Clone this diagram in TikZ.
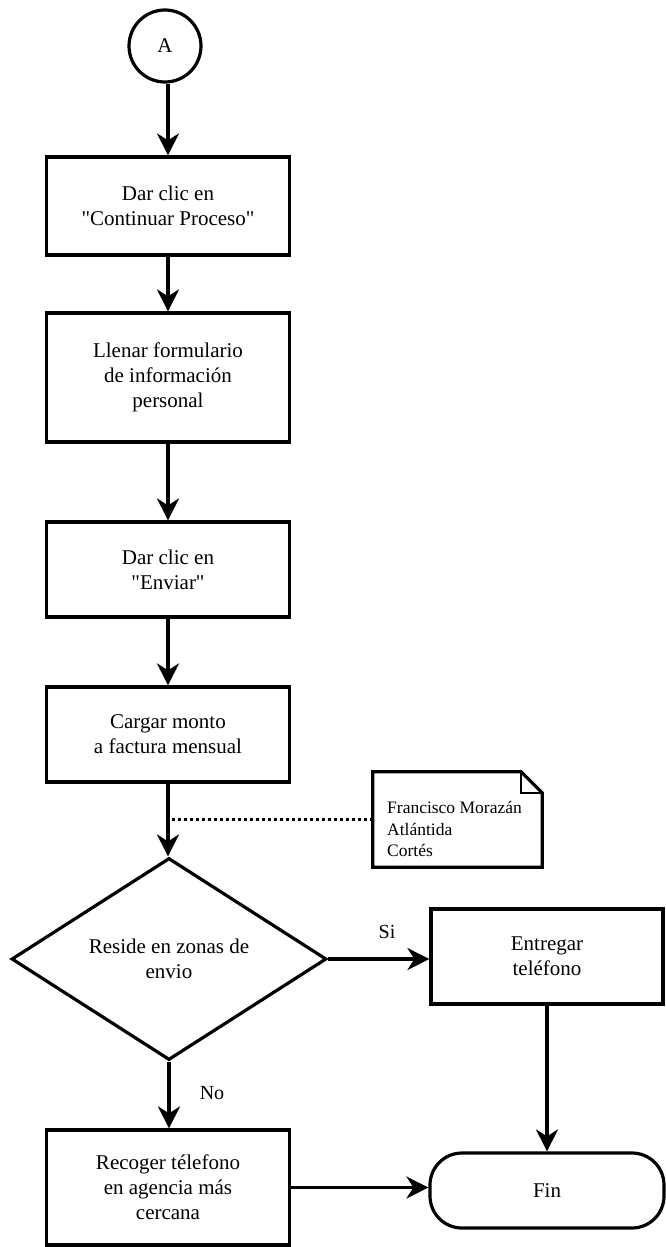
\documentclass[tikz,border=0pt]{standalone}
\usepackage{fontspec}
\setmainfont{Liberation Serif}[Ligatures=TeXOff]
\usetikzlibrary{shapes.geometric,arrows.meta}
\begin{document}
\begin{tikzpicture}[x=1pt,y=-1pt,
  every node/.style={inner sep=0pt},
  txt/.style={font=\fontsize{21}{25}\selectfont, align=center},
  procbox/.style={txt, draw, line width=3.2pt, minimum width=243pt},
  decision/.style={txt, draw, diamond, line width=3.2pt, minimum width=315pt, minimum height=202pt},
  terminal/.style={txt, draw, line width=3.2pt, rounded corners=32pt, minimum width=234pt, minimum height=75pt},
  flow/.style={-{Stealth[length=22pt,width=22pt,inset=7pt]}, line width=3.2pt},
  dotline/.style={line width=3.2pt, dash pattern=on 3pt off 3pt},
  lbl/.style={font=\fontsize{20}{24}\selectfont}
]
\useasboundingbox (0,0) rectangle (665,1247);

% main column
\node[txt, draw, circle, line width=3.2pt, minimum size=72pt] (A) at (165,46) {A};
\node[procbox, minimum height=98pt]  (b1) at (168,206)   {Dar clic en\\"Continuar Proceso"};
\node[procbox, minimum height=129pt] (b2) at (168,377.5) {Llenar formulario\\de información\\personal};
\node[procbox, minimum height=95pt]  (b3) at (168,569.5) {Dar clic en\\"Enviar"};
\node[procbox, minimum height=95pt]  (b4) at (168,734.5) {Cargar monto\\a factura mensual};
\node[decision] (dec) at (169,959) {Reside en zonas de\\envio};
\node[procbox, minimum height=115pt] (rec) at (168,1187.5) {Recoger télefono\\en agencia más\\cercana};

% right column
\node[procbox, minimum width=232pt, minimum height=95pt] (ent) at (547,956.5) {Entregar\\teléfono};
\node[terminal] (fin) at (547,1190.5) {Fin};

% annotation with folded corner
\node[minimum width=169pt, minimum height=95pt] (note) at (457.5,819.5) {};
\draw[line width=3.2pt, line join=miter]
  (note.north west) -- ([xshift=-21pt]note.north east)
  -- ([yshift=-21pt]note.north east) -- (note.south east)
  -- (note.south west) -- cycle;
\draw[line width=2.2pt]
  ([xshift=-21pt]note.north east) -- ([xshift=-21pt,yshift=-21pt]note.north east)
  -- ([yshift=-21pt]note.north east);
\node[anchor=west, align=left, font=\fontsize{17.5}{21.5}\selectfont] (notetxt) at (387,829)
  {Francisco Morazán\\Atlántida\\Cortés};

% branch labels
\node[lbl] (si) at (387,932) {Si};
\node[lbl] (no) at (212,1093) {No};

% connectors
\draw[flow] (A.south -| b1.north) -- (b1.north);
\draw[flow] (b1.south) -- (b2.north);
\draw[flow] (b2.south) -- (b3.north);
\draw[flow] (b3.south) -- (b4.north);
\draw[flow] (b4.south) -- (b4.south |- dec.north);
\draw[dotline] (note.west) -- (note.west -| b4.south);
\draw[flow] (dec.east) -- (dec.east -| ent.west);
\draw[flow] (dec.south) -- (dec.south |- rec.north);
\draw[flow] (ent.south) -- (fin.north);
\draw[flow] (rec.east) -- (rec.east -| fin.west);
\end{tikzpicture}
\end{document}
